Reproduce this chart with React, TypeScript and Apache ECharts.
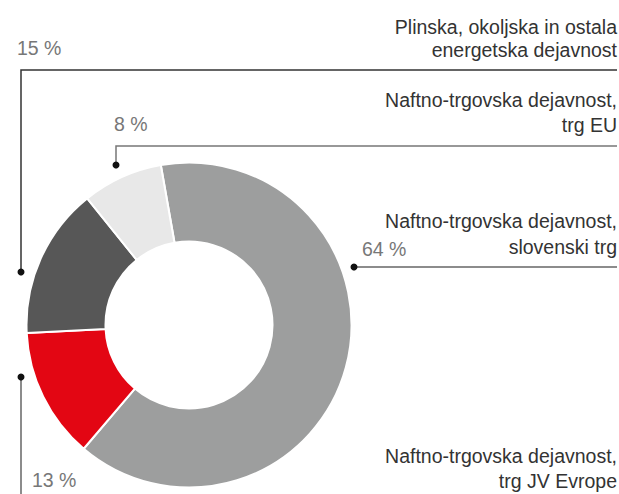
import React, { useEffect, useRef } from "react";
import * as echarts from "echarts";

const categories = [
  "Naftno-trgovska dejavnost, slovenski trg",
  "Naftno-trgovska dejavnost, trg JV Evrope",
  "Plinska, okoljska in ostala energetska dejavnost",
  "Naftno-trgovska dejavnost, trg EU",
];
const shares = [64, 13, 15, 8];
const colors = ["#9d9e9e", "#e30613", "#575757", "#e8e8e8"];
const labelLines = [
  ["Naftno-trgovska dejavnost,", "slovenski trg"],
  ["Naftno-trgovska dejavnost,", "trg JV Evrope"],
  ["Plinska, okoljska in ostala", "energetska dejavnost"],
  ["Naftno-trgovska dejavnost,", "trg EU"],
];
const pctLabels = ["64 %", "13 %", "15 %", "8 %"];

const FONT = "'Liberation Sans', Arial, sans-serif";

export default function App() {
  const ref = useRef<HTMLDivElement>(null);
  useEffect(() => {
    document.body.style.margin = "0";
    const chart = echarts.init(ref.current!, null, { renderer: "svg" });
    const textStyle = (x: number, y: number, t: string, align: string, color = "#333") => ({
      type: "text",
      x,
      y,
      style: {
        text: t,
        fill: color,
        font: `normal 19.5px ${FONT}`,
        textAlign: align,
        textVerticalAlign: "middle",
      },
    });
    const dot = (x: number, y: number) => ({
      type: "circle",
      shape: { cx: x, cy: y, r: 3.5 },
      style: { fill: "#111" },
    });
    const seg = (pts: number[][], color: string) => ({
      type: "polyline",
      shape: { points: pts },
      style: { stroke: color, lineWidth: 1.5, fill: "none" },
    });
    const graphic: any[] = [
      // 15 % (Plinska)
      textStyle(617, 27, labelLines[2][0], "right"),
      textStyle(617, 50, labelLines[2][1], "right"),
      textStyle(17, 48, pctLabels[2], "left", "#777"),
      seg([[617, 70], [21, 70], [21, 272]], "#333"),
      dot(21, 272),
      // 8 % (EU)
      textStyle(617, 100, labelLines[3][0], "right"),
      textStyle(617, 125, labelLines[3][1], "right"),
      textStyle(114, 124, pctLabels[3], "left", "#777"),
      seg([[617, 146], [116, 146], [116, 165]], "#777"),
      dot(116, 165),
      // 64 % (slovenski)
      textStyle(617, 221, labelLines[0][0], "right"),
      textStyle(617, 247, labelLines[0][1], "right"),
      textStyle(362, 249, pctLabels[0], "left", "#777"),
      seg([[354, 267], [617, 267]], "#666"),
      dot(354, 267),
      // 13 % (JV)
      textStyle(617, 456, labelLines[1][0], "right"),
      textStyle(617, 481, labelLines[1][1], "right"),
      textStyle(32, 480, pctLabels[1], "left", "#777"),
      seg([[21, 377], [21, 494]], "#666"),
      dot(21, 377),
    ];
    chart.setOption({
      animation: false,
      graphic,
      series: [
        {
          type: "pie",
          center: [189, 325],
          radius: [83.5, 162.5],
          startAngle: 100,
          clockwise: true,
          label: { show: false },
          labelLine: { show: false },
          emphasis: { disabled: true },
          itemStyle: { borderColor: "#fff", borderWidth: 2 },
          data: shares.map((v, i) => ({
            name: categories[i],
            value: v,
            itemStyle: { color: colors[i] },
          })),
        },
      ],
    });
    return () => chart.dispose();
  }, []);
  return (
    <div
      ref={ref}
      style={{ position: "absolute", left: 0, top: 0, width: 619, height: 494 }}
    />
  );
}
